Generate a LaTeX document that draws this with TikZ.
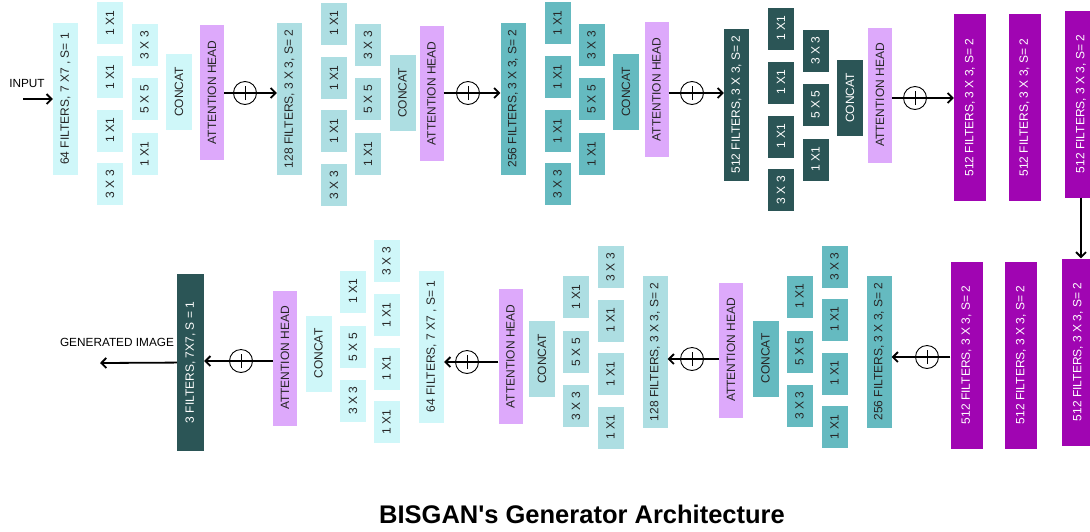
\documentclass[tikz,border=0pt]{standalone}
\usepackage{fontspec}
\setmainfont{Liberation Sans}
\usetikzlibrary{arrows.meta}

\definecolor{cyanA}{HTML}{CFF7F9}
\definecolor{tealB}{HTML}{ADDEE2}
\definecolor{tealC}{HTML}{65BAC0}
\definecolor{slateD}{HTML}{2B5556}
\definecolor{attn}{HTML}{DDA9FB}
\definecolor{purp}{HTML}{A005B2}

\begin{document}
\begin{tikzpicture}[x=1pt,y=-1pt,
  blk/.style={rotate=90,inner sep=0pt,font=\fontsize{12}{13}\selectfont,text=black!85},
  layer/.style={blk,minimum width=152,minimum height=25},
  conv/.style={blk,minimum width=42,minimum height=26},
  cat/.style={blk,minimum width=76,minimum height=26},
  att/.style={blk,fill=attn,minimum width=135,minimum height=24},
  wide/.style={blk,fill=purp,text=white,minimum width=187,minimum height=32},
  sum/.style={circle,draw,line width=0.9pt,minimum size=23,inner sep=0pt,
    path picture={\draw[line width=0.9pt] ([yshift=-7pt]path picture bounding box.center) -- ([yshift=7pt]path picture bounding box.center);}},
  arr/.style={line width=1.8pt,-{Straight Barb[length=5pt,width=10pt]}},
  lbl/.style={inner sep=0pt,font=\fontsize{11.8}{13}\selectfont}]
\useasboundingbox (0,0) rectangle (1090,531);

% top row
\node[lbl] (inp) at (27,83) {INPUT};
\coordinate (inpt) at (23,99);
\node[layer,fill=cyanA] (f64) at (65.5,99) {64 FILTERS, 7 X7 , S= 1};
\foreach \y/\t [count=\i] in {23/1 X1,77/1 X1,130.5/1 X1,184/3 X 3} \node[conv,fill=cyanA] (ta\i) at (110,\y) {\t};
\foreach \y/\t [count=\i] in {45/3 X 3,99/5 X 5,154/1 X1} \node[conv,fill=cyanA] (tb\i) at (144.5,\y) {\t};
\node[cat,fill=cyanA] (cat1) at (179,92) {CONCAT};
\node[att] (att1) at (212,92.5) {ATTENTION HEAD};
\node[sum] (s1) at (245,93) {};

\node[layer,fill=tealB] (f128) at (289.5,99) {128 FILTERS, 3 X 3, S= 2};
\foreach \y/\t [count=\i] in {23.5/1 X1,78/1 X1,131/1 X1,185/3 X 3} \node[conv,fill=tealB] (tc\i) at (334,\y) {\t};
\foreach \y/\t [count=\i] in {45/3 X 3,99/5 X 5,154/1 X1} \node[conv,fill=tealB] (td\i) at (368,\y) {\t};
\node[cat,fill=tealB] (cat2) at (402.5,93) {CONCAT};
\node[att] (att2) at (431.5,93.5) {ATTENTION HEAD};
\node[sum] (s2) at (468,93) {};

\node[layer,fill=tealC] (f256) at (513,98.5) {256 FILTERS, 3 X 3, S= 2};
\foreach \y/\t [count=\i] in {23/1 X1,77/1 X1,131/1 X1,184/3 X 3} \node[conv,fill=tealC] (te\i) at (557.5,\y) {\t};
\foreach \y/\t [count=\i] in {45/3 X 3,99/5 X 5,154/1 X1} \node[conv,fill=tealC] (tf\i) at (591.5,\y) {\t};
\node[cat,fill=tealC] (cat3) at (626,92) {CONCAT};
\node[att] (att3) at (656.5,89.5) {ATTENTION HEAD};
\node[sum] (s3) at (692,93) {};

\node[layer,fill=slateD,text=white] (f512) at (736.5,104.5) {512 FILTERS, 3 X 3, S= 2};
\foreach \y/\t [count=\i] in {28.5/1 X1,82.5/1 X1,136.5/1 X1,190/3 X 3} \node[conv,fill=slateD,text=white] (tg\i) at (781,\y) {\t};
\foreach \y/\t [count=\i] in {50.5/3 X 3,104.5/5 X 5,159.5/1 X1} \node[conv,fill=slateD,text=white] (th\i) at (815.5,\y) {\t};
\node[cat,fill=slateD,text=white] (cat4) at (850,98) {CONCAT};
\node[att] (att4) at (880,95) {ATTENTION HEAD};
\node[sum] (s4) at (915,98) {};

\node[wide] (p1) at (970,107.5) {512 FILTERS, 3 X 3, S= 2};
\node[wide] (p2) at (1024.5,107.5) {512 FILTERS, 3 X 3, S= 2};
\node[wide] (p3) at (1081,104) {512 FILTERS, 3 X 3, S= 2};

% bottom row
\node[wide] (q3) at (1078,352) {512 FILTERS, 3 X 3, S= 2};
\node[wide] (q2) at (1021,355) {512 FILTERS, 3 X 3, S= 2};
\node[wide] (q1) at (966.5,355) {512 FILTERS, 3 X 3, S= 2};
\node[sum] (s5) at (927,357) {};

\node[layer,fill=tealC] (f256b) at (879,351.5) {256 FILTERS, 3 X 3, S= 2};
\foreach \y/\t [count=\i] in {266.5/3 X 3,319.5/1 X1,373.5/1 X1,427/1 X1} \node[conv,fill=tealC] (bf\i) at (834.5,\y) {\t};
\foreach \y/\t [count=\i] in {296.5/1 X1,351.5/5 X 5,405.5/3 X 3} \node[conv,fill=tealC] (be\i) at (799.5,\y) {\t};
\node[cat,fill=tealC] (cat5) at (765.5,358.5) {CONCAT};
\node[att] (att5) at (731,350) {ATTENTION HEAD};
\node[sum] (s6) at (692,359) {};

\node[layer,fill=tealB] (f128b) at (655,352) {128 FILTERS, 3 X 3, S= 2};
\foreach \y/\t [count=\i] in {267/3 X 3,320.5/1 X1,374/1 X1,427.5/1 X1} \node[conv,fill=tealB] (bd\i) at (610.5,\y) {\t};
\foreach \y/\t [count=\i] in {297/1 X1,352/5 X 5,406/3 X 3} \node[conv,fill=tealB] (bc\i) at (576,\y) {\t};
\node[cat,fill=tealB] (cat6) at (542,359) {CONCAT};
\node[att] (att6) at (510.5,356.5) {ATTENTION HEAD};
\node[sum] (s7) at (467,362) {};

\node[layer,fill=cyanA] (f64b) at (431.5,346.5) {64 FILTERS, 7 X7 , S= 1};
\foreach \y/\t [count=\i] in {261/3 X 3,315/1 X1,368.5/1 X1,422/1 X1} \node[conv,fill=cyanA] (bb\i) at (386.5,\y) {\t};
\foreach \y/\t [count=\i] in {291.5/1 X1,347/5 X 5,400.5/3 X 3} \node[conv,fill=cyanA] (ba\i) at (353,\y) {\t};
\node[cat,fill=cyanA] (cat7) at (318.5,353.5) {CONCAT};
\node[att] (att7) at (285,358) {ATTENTION HEAD};
\node[sum] (s8) at (241,361) {};

\node[blk,fill=slateD,text=white,minimum width=177,minimum height=27] (f3) at (190.5,362.5) {3 FILTERS, 7X7, S = 1};
\coordinate (out) at (100,363);
\node[lbl] (gen) at (117,342) {GENERATED IMAGE};

% connectors
\draw[arr] (inpt) -- (f64);
\draw[arr] (att1.south |- s1) -- (s1.center) -- (s1 -| f128.north);
\draw[arr] (att2.south |- s2) -- (s2.center) -- (s2 -| f256.north);
\draw[arr] (att3.south |- s3) -- (s3.center) -- (s3 -| f512.north);
\draw[arr] (att4.south |- s4) -- (s4.center) -- (s4 -| p1.north);
\draw[arr] (p3.west) -- (p3.west |- q3.east);
\draw[arr] (q1.north |- s5) -- (s5.center) -- (s5 -| f256b.south);
\draw[arr] (att5.north |- s6) -- (s6.center) -- (s6 -| f128b.south);
\draw[arr] (att6.north |- s7) -- (s7.center) -- (s7 -| f64b.south);
\draw[arr] (att7.north |- s8) -- (s8.center) -- (s8 -| f3.south);
\draw[arr] (f3) -- (out);

\node (title) at (582,514) {\bfseries\fontsize{25.5}{30}\selectfont BISGAN\textquotesingle s Generator Architecture};
\end{tikzpicture}
\end{document}
